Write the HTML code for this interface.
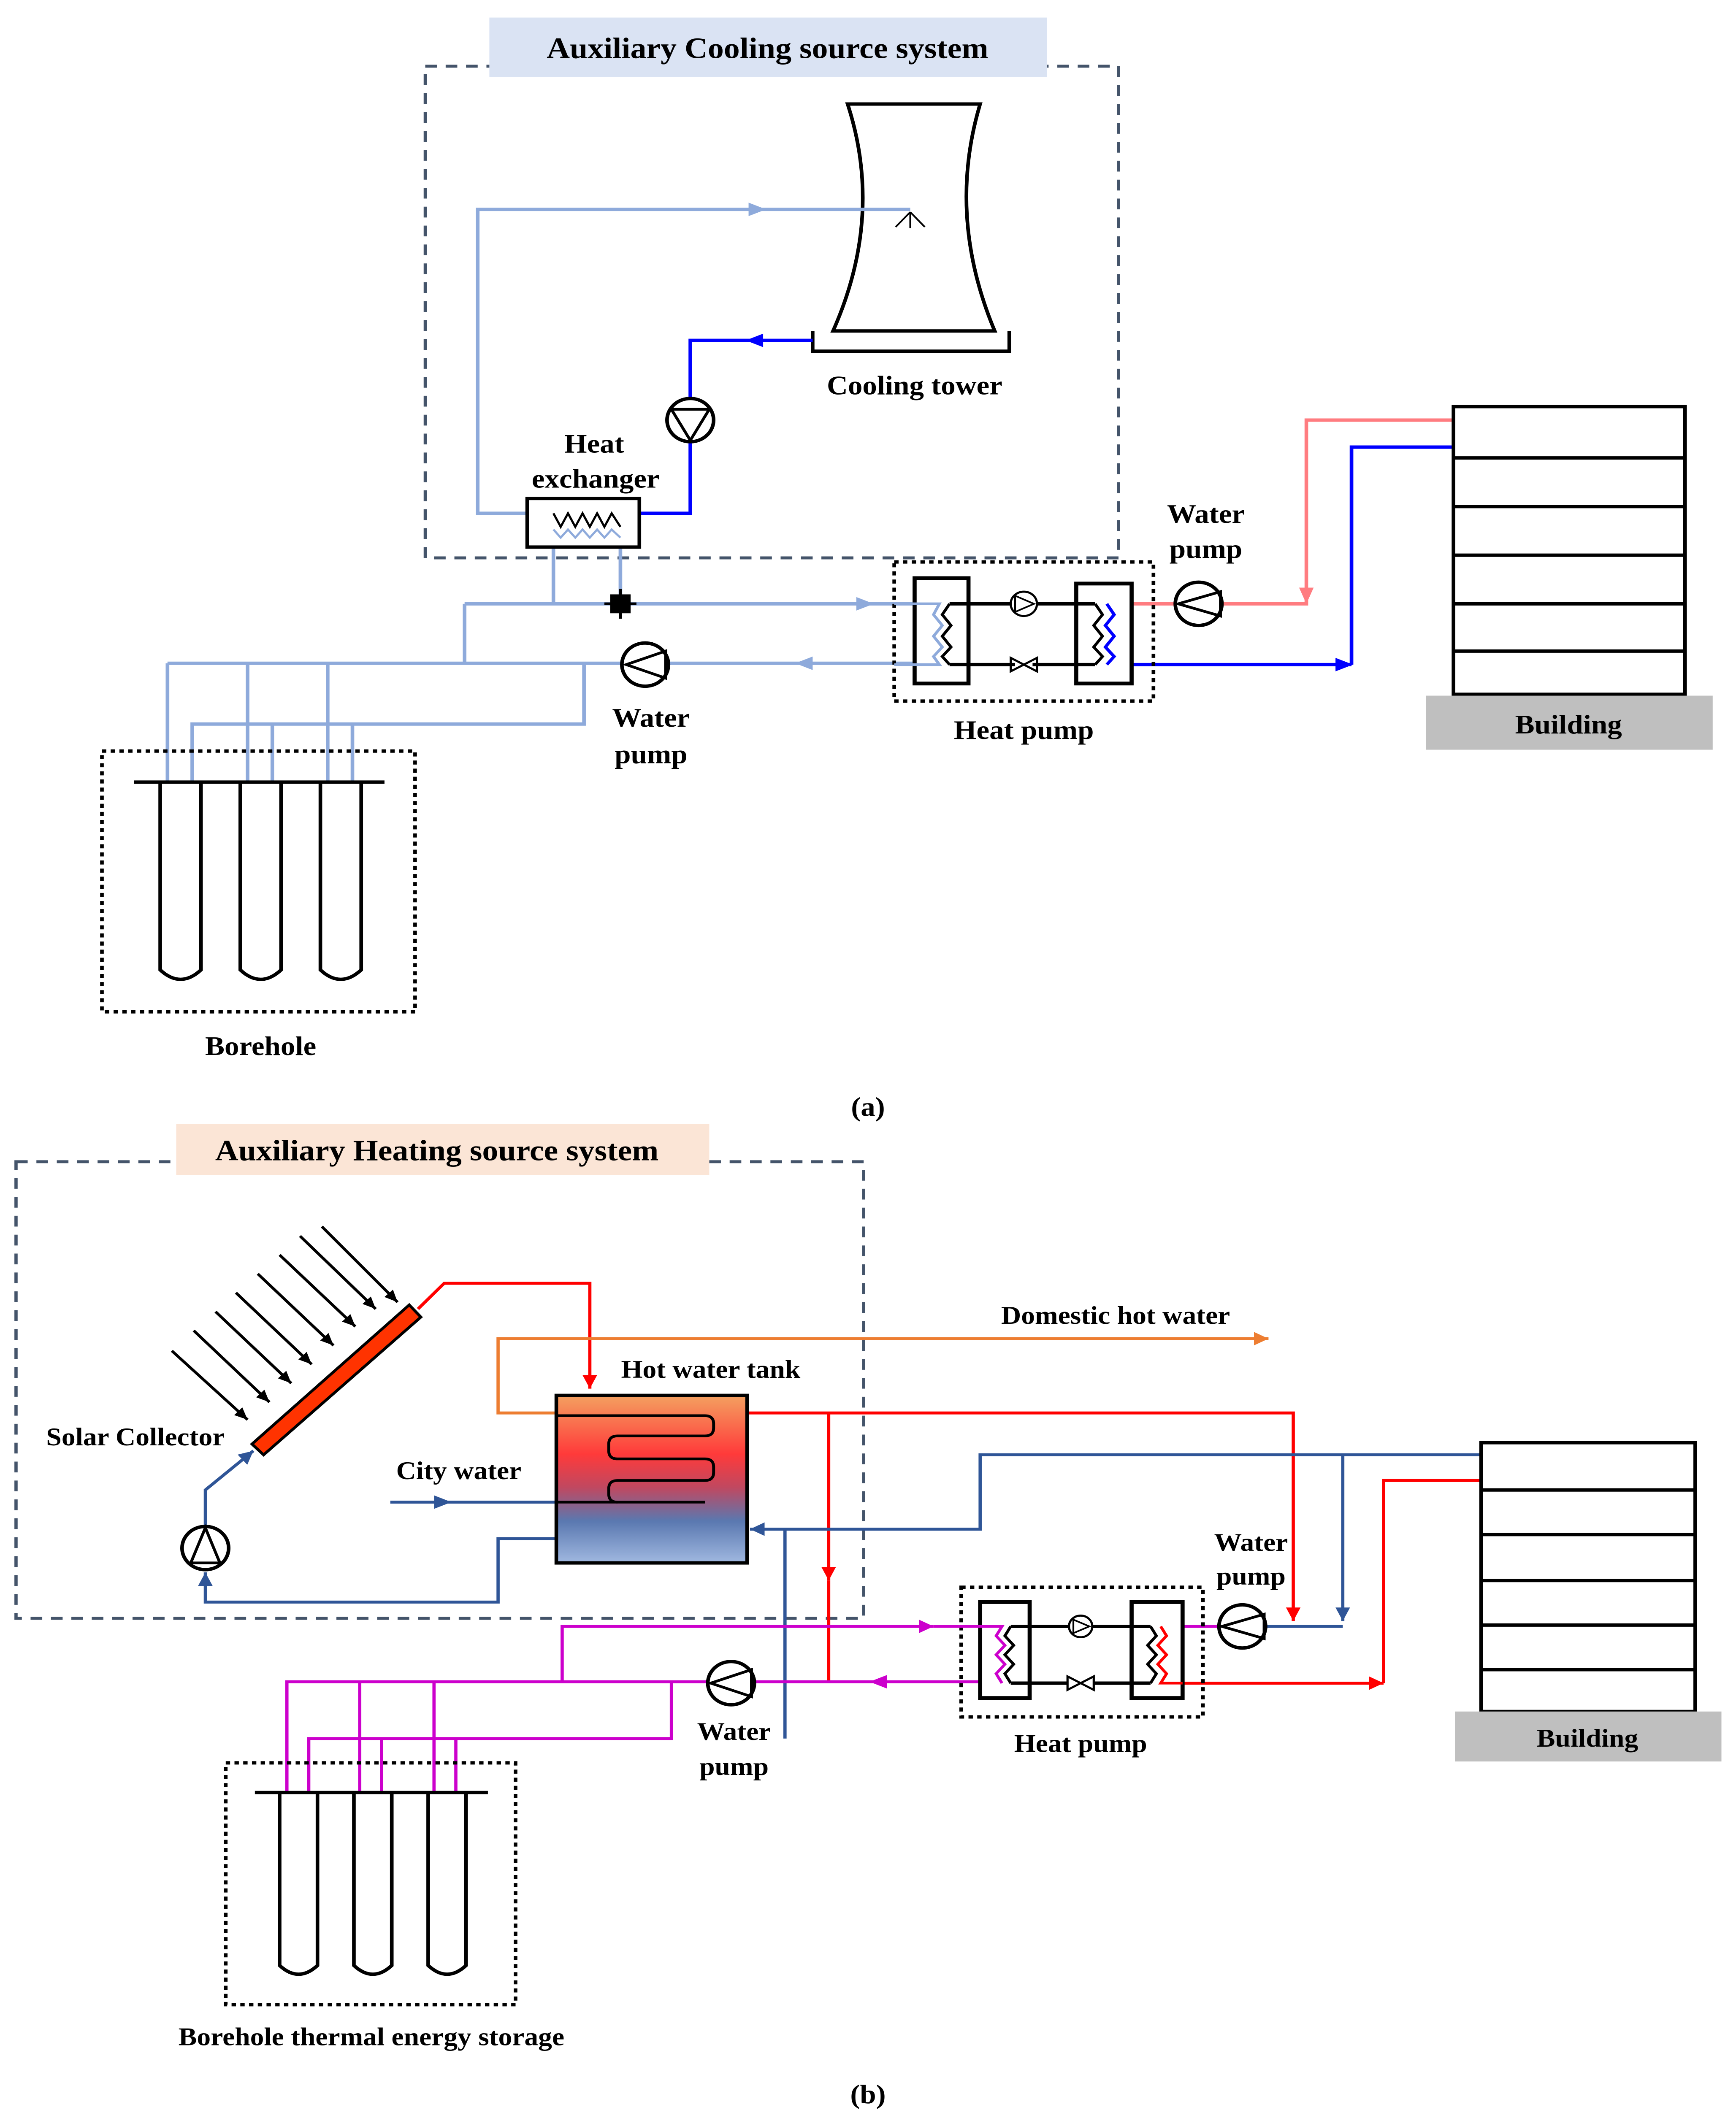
<!DOCTYPE html>
<html><head><meta charset="utf-8"><style>
html,body{margin:0;padding:0;background:#fff;width:100vw;height:100vh;overflow:hidden}
svg{display:block;position:fixed;left:0;top:0;width:100vw;height:100vh}
text{font-family:"Liberation Serif",serif;font-weight:bold;fill:#000}
</style></head><body>
<svg viewBox="0 0 1192 1562" preserveAspectRatio="none" xmlns="http://www.w3.org/2000/svg">
<defs>
<marker id="aR" markerUnits="userSpaceOnUse" markerWidth="12" markerHeight="10" refX="10" refY="5" orient="auto"><path d="M0,0 L10,5 L0,10 z" fill="#ff0000"/></marker>
<marker id="aO" markerUnits="userSpaceOnUse" markerWidth="12" markerHeight="10" refX="10" refY="5" orient="auto"><path d="M0,0 L10,5 L0,10 z" fill="#ed7d31"/></marker>
<marker id="aD" markerUnits="userSpaceOnUse" markerWidth="12" markerHeight="10" refX="10" refY="5" orient="auto"><path d="M0,0 L10,5 L0,10 z" fill="#2f5597"/></marker>
<marker id="aM" markerUnits="userSpaceOnUse" markerWidth="12" markerHeight="10" refX="10" refY="5" orient="auto"><path d="M0,0 L10,5 L0,10 z" fill="#cc00cc"/></marker>
<marker id="aK" markerUnits="userSpaceOnUse" markerWidth="10" markerHeight="8" refX="9" refY="4" orient="auto"><path d="M0,0 L9,4 L0,8 z" fill="#000"/></marker>
<linearGradient id="tank" x1="0" y1="0" x2="0" y2="1">
<stop offset="0" stop-color="#f4a060"/><stop offset="0.35" stop-color="#ff3a3a"/><stop offset="0.55" stop-color="#c04860"/><stop offset="0.75" stop-color="#5a78b0"/><stop offset="1" stop-color="#a0b8e0"/></linearGradient>
</defs>

<!-- ===== (a) ===== -->
<rect x="292" y="49" width="476" height="364" fill="none" stroke="#44546a" stroke-width="2.2" stroke-dasharray="8,6"/>
<rect x="336" y="13" width="383" height="44" fill="#dae3f3"/>
<text x="527" y="43" font-size="22" text-anchor="middle">Auxiliary Cooling source system</text>

<path d="M582,77 L673,77 Q650,160 683,245 L572,245 Q607,160 582,77 Z" fill="none" stroke="#000" stroke-width="2.5"/>
<path d="M558,245 L558,260 L693,260 L693,245" fill="none" stroke="#000" stroke-width="2.5"/>
<path d="M625,157 L615,168 M625,157 L635,168 M625,157 L625,169" stroke="#000" stroke-width="1.2"/>

<g fill="none" stroke="#8eaadb" stroke-width="2.5">
<path d="M362,380 L328,380 L328,155 L625,155"/>
<path d="M380,405 L380,447 M426,405 L426,447"/>
<path d="M319,447 L627,447"/>
<path d="M319,447 L319,491"/>
<path d="M115,491 L627,491"/>
<path d="M115,491 L115,578 M170,491 L170,578 M225,491 L225,578"/>
<path d="M132,578 L132,536 L401,536 L401,491"/>
<path d="M187,536 L187,578 M242,536 L242,578"/>
</g>
<polygon points="526,155 514,150 514,160" fill="#8eaadb"/>
<polygon points="600,447 588,442 588,452" fill="#8eaadb"/>
<polygon points="546,491 558,486 558,496" fill="#8eaadb"/>

<g fill="none" stroke="#0000ff" stroke-width="2.5">
<path d="M558,252 L474,252 L474,295"/>
<path d="M474,327 L474,380 L440,380"/>
<path d="M760,492 L928,492 M928,492 L928,331 L997,331"/>
</g>
<polygon points="512,252 524,247 524,257" fill="#0000ff"/>
<polygon points="929,492 917,487 917,497" fill="#0000ff"/>
<g fill="none" stroke="#ff7c80" stroke-width="2.5">
<path d="M760,447 L807,447 M839,447 L897,447 L897,311 L997,311"/>
</g>
<polygon points="897,447 892,435 902,435" fill="#ff7c80"/>

<circle cx="474" cy="311" r="16" fill="#fff" stroke="#000" stroke-width="2.5"/>
<path d="M461,303 L487,303 L474,326 Z" fill="none" stroke="#000" stroke-width="2"/>

<rect x="362" y="369" width="77" height="36" fill="#fff" stroke="#000" stroke-width="2.5"/>
<path d="M380,380 L385,390 L390,380 L395,390 L400,380 L405,390 L410,380 L415,390 L420,380 L426,390" fill="none" stroke="#000" stroke-width="1.5"/>
<path d="M380,392 L385,398 L390,392 L395,398 L400,392 L405,398 L410,392 L415,398 L420,392 L426,398" fill="none" stroke="#8eaadb" stroke-width="1.5"/>
<text x="408" y="335" font-size="20" text-anchor="middle">Heat</text>
<text x="409" y="361" font-size="20" text-anchor="middle">exchanger</text>

<g stroke="#000" stroke-width="2" fill="#000"><rect x="420" y="441" width="12" height="12"/><line x1="426" y1="436" x2="426" y2="458"/><line x1="415" y1="447" x2="437" y2="447"/></g>

<circle cx="443" cy="492" r="16" fill="#fff" stroke="#000" stroke-width="2.5"/>
<path d="M457,482 L457,502 L430,492 Z" fill="none" stroke="#000" stroke-width="2"/>

<rect x="614" y="416" width="178" height="103" fill="none" stroke="#000" stroke-width="2.5" stroke-dasharray="3,3"/>
<rect x="628" y="428" width="37" height="78" fill="#fff" stroke="#000" stroke-width="2.8"/>
<rect x="739" y="432" width="38" height="74" fill="#fff" stroke="#000" stroke-width="2.8"/>
<path d="M614,447 L645,447 L641,455 L647,463 L641,471 L647,479 L641,486 L645,492 L614,492" fill="none" stroke="#8eaadb" stroke-width="2"/>
<path d="M652,447 L647,455 L653,463 L647,471 L653,479 L647,486 L652,492" fill="none" stroke="#000" stroke-width="2"/>
<path d="M652,447 L697,447 M709,447 L752,447 M652,492 L697,492 M709,492 L752,492" stroke="#000" stroke-width="2.5"/>
<path d="M752,447 L757,455 L751,463 L757,471 L751,479 L757,486 L752,492" fill="none" stroke="#000" stroke-width="2"/>
<path d="M760,447 L765,455 L759,463 L765,471 L759,479 L765,486 L760,492" fill="none" stroke="#0000ff" stroke-width="2.2"/>
<circle cx="703" cy="447" r="9" fill="#fff" stroke="#000" stroke-width="1.5"/>
<path d="M697,441 L697,453 L710,447 Z" fill="none" stroke="#000" stroke-width="1.2"/>
<path d="M694,487 L712,497 L712,487 L694,497 Z" fill="none" stroke="#000" stroke-width="1.5"/>

<circle cx="823" cy="447" r="16" fill="#fff" stroke="#000" stroke-width="2.5"/>
<path d="M838,438 L838,456 L809,447 Z" fill="none" stroke="#000" stroke-width="2"/>
<text x="828" y="387" font-size="20" text-anchor="middle">Water</text>
<text x="828" y="413" font-size="20" text-anchor="middle">pump</text>
<text x="447" y="538" font-size="20" text-anchor="middle">Water</text>
<text x="447" y="565" font-size="20" text-anchor="middle">pump</text>
<text x="703" y="547" font-size="20" text-anchor="middle">Heat pump</text>
<text x="628" y="292" font-size="20" text-anchor="middle">Cooling tower</text>

<rect x="998" y="301" width="159" height="213" fill="#fff" stroke="#000" stroke-width="2.5"/>
<g stroke="#000" stroke-width="2.5"><line x1="998" y1="339" x2="1157" y2="339"/><line x1="998" y1="375" x2="1157" y2="375"/><line x1="998" y1="411" x2="1157" y2="411"/><line x1="998" y1="447" x2="1157" y2="447"/><line x1="998" y1="482" x2="1157" y2="482"/></g>
<rect x="979" y="515" width="197" height="40" fill="#bfbfbf"/>
<text x="1077" y="543" font-size="20" text-anchor="middle">Building</text>

<rect x="70" y="556" width="215" height="193" fill="none" stroke="#000" stroke-width="2.5" stroke-dasharray="3,3"/>
<line x1="92" y1="579" x2="264" y2="579" stroke="#000" stroke-width="2.5"/>
<g fill="none" stroke="#000" stroke-width="2.5">
<path d="M110,579 L110,718 Q124,732 138,718 L138,579"/>
<path d="M165,579 L165,718 Q179,732 193,718 L193,579"/>
<path d="M220,579 L220,718 Q234,732 248,718 L248,579"/>
</g>
<text x="179" y="781" font-size="20" text-anchor="middle">Borehole</text>
<text x="596" y="826" font-size="20" text-anchor="middle" font-weight="normal">(<tspan font-weight="bold">a</tspan>)</text>

<!-- ===== (b) ===== -->
<rect x="11" y="860" width="582" height="338" fill="none" stroke="#44546a" stroke-width="2.2" stroke-dasharray="8,6"/>
<rect x="121" y="832" width="366" height="38" fill="#fbe5d6"/>
<text x="300" y="859" font-size="22" text-anchor="middle">Auxiliary Heating source system</text>

<g stroke="#000" stroke-width="2" marker-end="url(#aK)">
<line x1="118" y1="1000" x2="170" y2="1051"/>
<line x1="133" y1="985" x2="185" y2="1038"/>
<line x1="148" y1="971" x2="200" y2="1024"/>
<line x1="162" y1="957" x2="214" y2="1010"/>
<line x1="177" y1="943" x2="229" y2="996"/>
<line x1="192" y1="929" x2="244" y2="982"/>
<line x1="206" y1="915" x2="258" y2="969"/>
<line x1="221" y1="908" x2="273" y2="964"/>
</g>
<polygon points="173,1069 281,966 289,975 181,1077" fill="#ff3300" stroke="#000" stroke-width="2"/>

<g fill="none" stroke="#ff0000" stroke-width="2.2">
<path d="M287,969 L305,950 L405,950 L405,1028" marker-end="url(#aR)"/>
<path d="M513,1046 L888,1046 L888,1200" marker-end="url(#aR)"/>
<path d="M569,1046 L569,1170" marker-end="url(#aR)"/>
<path d="M569,1170 L569,1245"/>
<path d="M812,1246 L950,1246" marker-end="url(#aR)"/>
<path d="M950,1246 L950,1096 L1017,1096"/>
</g>
<path d="M382,1046 L342,1046 L342,991 L871,991" fill="none" stroke="#ed7d31" stroke-width="2.2" marker-end="url(#aO)"/>

<g fill="none" stroke="#2f5597" stroke-width="2.2">
<path d="M141,1130 L141,1103 L174,1074" marker-end="url(#aD)"/>
<path d="M382,1139 L342,1139 L342,1186 L141,1186 L141,1164" marker-end="url(#aD)"/>
<path d="M268,1112 L382,1112"/>
<path d="M1017,1077 L673,1077 L673,1132 L515,1132" marker-end="url(#aD)"/>
<path d="M922,1077 L922,1200" marker-end="url(#aD)"/>
<path d="M539,1132 L539,1287"/>
<path d="M869,1204 L922,1204"/>
</g>
<polygon points="310,1112 298,1107 298,1117" fill="#2f5597"/>

<rect x="382" y="1033" width="131" height="124" fill="url(#tank)" stroke="#000" stroke-width="2.5"/>
<path d="M382,1048 L484,1048 Q490,1048 490,1054 L490,1057 Q490,1063 484,1063 L424,1063 Q418,1063 418,1069 L418,1074 Q418,1080 424,1080 L484,1080 Q490,1080 490,1086 L490,1090 Q490,1096 484,1096 L424,1096 Q418,1096 418,1102 L418,1106 Q418,1112 424,1112 L484,1112" fill="none" stroke="#000" stroke-width="2"/>
<path d="M382,1112 L424,1112" stroke="#000" stroke-width="2"/>

<circle cx="141" cy="1146" r="16" fill="#fff" stroke="#000" stroke-width="2.5"/>
<path d="M131,1157 L151,1157 L141,1131 Z" fill="none" stroke="#000" stroke-width="2"/>

<text x="766" y="980" font-size="19" text-anchor="middle">Domestic hot water</text>
<text x="488" y="1020" font-size="19" text-anchor="middle">Hot water tank</text>
<text x="93" y="1070" font-size="19" text-anchor="middle">Solar Collector</text>
<text x="315" y="1095" font-size="19" text-anchor="middle">City water</text>

<g fill="none" stroke="#cc00cc" stroke-width="2.2">
<path d="M386,1245 L386,1204 L641,1204" marker-end="url(#aM)"/>
<path d="M197,1326 L197,1245 L686,1245"/>
<path d="M247,1245 L247,1326 M298,1245 L298,1326"/>
<path d="M461,1245 L461,1287 L212,1287 L212,1326"/>
<path d="M262,1287 L262,1326 M313,1287 L313,1326"/>
<path d="M800,1204 L837,1204"/>
</g>
<polygon points="597,1245 609,1240 609,1250" fill="#cc00cc"/>

<circle cx="502" cy="1246" r="16" fill="#fff" stroke="#000" stroke-width="2.5"/>
<path d="M516,1236 L516,1256 L488,1246 Z" fill="none" stroke="#000" stroke-width="2"/>

<rect x="660" y="1175" width="166" height="96" fill="none" stroke="#000" stroke-width="2.5" stroke-dasharray="3,3"/>
<rect x="673" y="1186" width="34" height="71" fill="#fff" stroke="#000" stroke-width="2.8"/>
<rect x="777" y="1186" width="35" height="71" fill="#fff" stroke="#000" stroke-width="2.8"/>
<path d="M641,1204 L688,1204 L684,1211 L690,1218 L684,1225 L690,1232 L684,1239 L688,1246" fill="none" stroke="#cc00cc" stroke-width="2"/>
<path d="M694,1204 L690,1211 L696,1218 L690,1225 L696,1232 L690,1239 L694,1246" fill="none" stroke="#000" stroke-width="2"/>
<path d="M694,1204 L736,1204 M748,1204 L790,1204 M694,1246 L733,1246 M751,1246 L790,1246" stroke="#000" stroke-width="2.5"/>
<path d="M790,1204 L794,1211 L788,1218 L794,1225 L788,1232 L794,1239 L790,1246" fill="none" stroke="#000" stroke-width="2"/>
<path d="M797,1204 L801,1211 L795,1218 L801,1225 L795,1232 L801,1239 L797,1246 L812,1246" fill="none" stroke="#ff0000" stroke-width="2"/>
<circle cx="742" cy="1204" r="8" fill="#fff" stroke="#000" stroke-width="1.5"/>
<path d="M737,1199 L737,1209 L748,1204 Z" fill="none" stroke="#000" stroke-width="1.2"/>
<path d="M733,1241 L751,1251 L751,1241 L733,1251 Z" fill="none" stroke="#000" stroke-width="1.5"/>

<circle cx="853" cy="1204" r="16" fill="#fff" stroke="#000" stroke-width="2.5"/>
<path d="M868,1195 L868,1213 L839,1204 Z" fill="none" stroke="#000" stroke-width="2"/>
<text x="859" y="1148" font-size="19" text-anchor="middle">Water</text>
<text x="859" y="1173" font-size="19" text-anchor="middle">pump</text>
<text x="504" y="1288" font-size="19" text-anchor="middle">Water</text>
<text x="504" y="1314" font-size="19" text-anchor="middle">pump</text>
<text x="742" y="1297" font-size="19" text-anchor="middle">Heat pump</text>

<rect x="1017" y="1068" width="147" height="199" fill="#fff" stroke="#000" stroke-width="2.5"/>
<g stroke="#000" stroke-width="2.5"><line x1="1017" y1="1103" x2="1164" y2="1103"/><line x1="1017" y1="1136" x2="1164" y2="1136"/><line x1="1017" y1="1170" x2="1164" y2="1170"/><line x1="1017" y1="1203" x2="1164" y2="1203"/><line x1="1017" y1="1236" x2="1164" y2="1236"/></g>
<rect x="999" y="1267" width="183" height="37" fill="#bfbfbf"/>
<text x="1090" y="1293" font-size="19" text-anchor="middle">Building</text>

<rect x="155" y="1305" width="199" height="179" fill="none" stroke="#000" stroke-width="2.5" stroke-dasharray="3,3"/>
<line x1="175" y1="1327" x2="335" y2="1327" stroke="#000" stroke-width="2.5"/>
<g fill="none" stroke="#000" stroke-width="2.5">
<path d="M192,1327 L192,1455 Q205,1468 218,1455 L218,1327"/>
<path d="M243,1327 L243,1455 Q256,1468 269,1455 L269,1327"/>
<path d="M294,1327 L294,1455 Q307,1468 320,1455 L320,1327"/>
</g>
<text x="255" y="1514" font-size="19" text-anchor="middle">Borehole thermal energy storage</text>
<text x="596" y="1557" font-size="20" text-anchor="middle" font-weight="normal">(<tspan font-weight="bold">b</tspan>)</text>
</svg>
</body></html>
